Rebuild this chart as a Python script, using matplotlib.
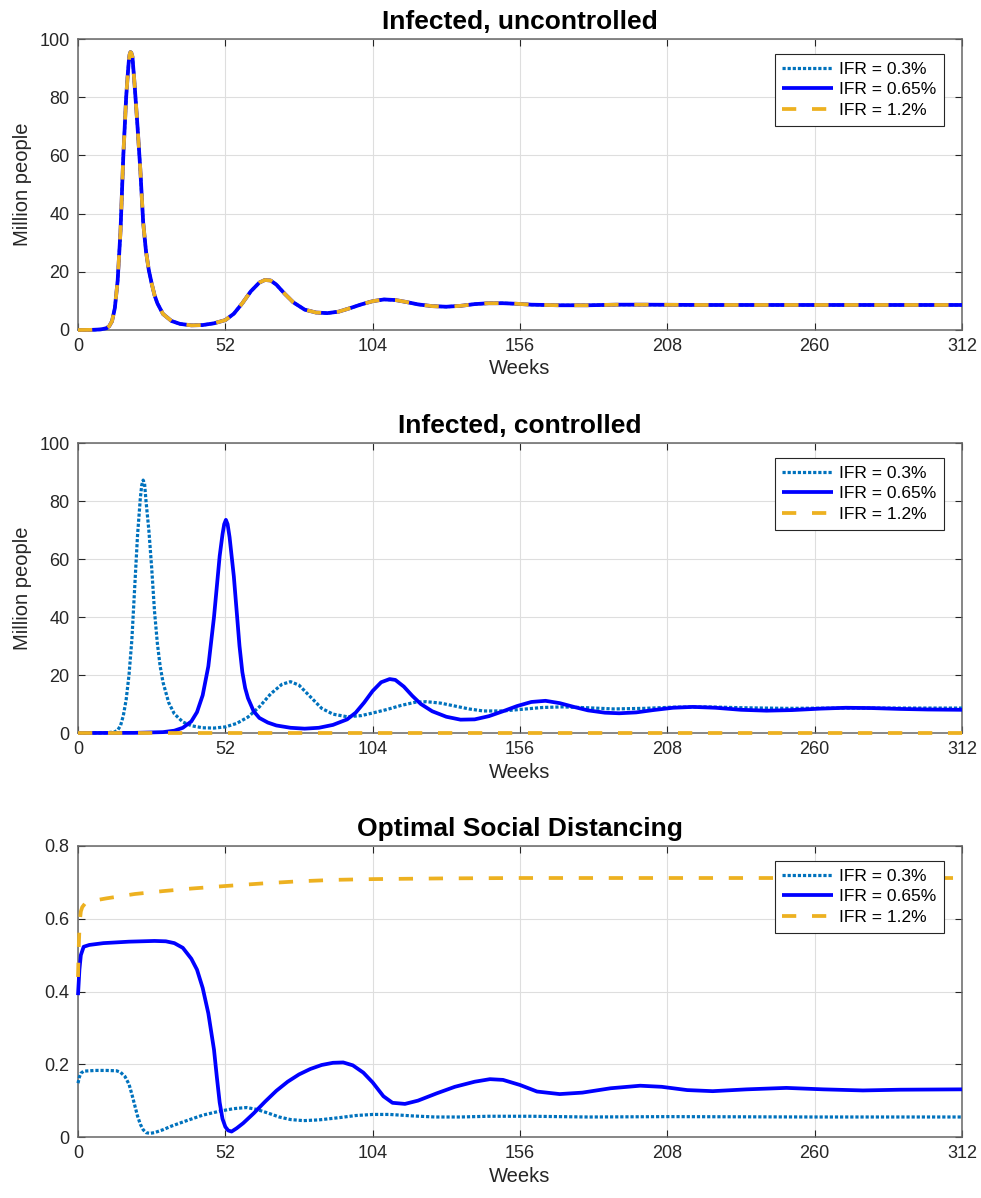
import matplotlib
matplotlib.use("Agg")
import matplotlib.pyplot as plt
import numpy as np

plt.rcParams['font.family'] = ['Liberation Sans', 'DejaVu Sans']

# ---------------- data ----------------
labels = ["IFR = 0.3%", "IFR = 0.65%", "IFR = 1.2%"]
xticks = [0, 52, 104, 156, 208, 260, 312]

# Panel 1: infected, uncontrolled (all three IFR curves coincide)
unc_w = [0, 5, 8, 10, 11, 12, 13, 14, 15, 16, 17, 17.5, 17.9, 18.2, 18.5, 18.8, 19.2, 20, 21, 22, 23, 24, 25, 26, 27, 28,
         30, 33, 36, 40, 44, 48, 52, 55, 58, 61, 64, 66, 68, 70, 73, 76, 80, 84, 88, 92, 96, 100, 104,
         108, 112, 116, 120, 125, 130, 135, 140, 145, 150, 155, 160, 170, 180, 190, 200, 220, 240, 260, 280, 312]
unc_i = [0.0, 0.05, 0.2, 0.6, 1.3, 3.0, 7.5, 17, 34, 60, 80, 87, 92, 94.6, 95.5, 95.3, 94, 84, 70, 55, 37, 27, 20.5, 16, 12, 9.2,
         5.5, 3.1, 2.1, 1.6, 1.7, 2.3, 3.4, 5.6, 9.2, 13.3, 16.3, 17.2, 17.0, 15.6, 12.4, 9.5, 7.0, 6.0, 5.8, 6.3, 7.5, 8.8, 9.9,
         10.5, 10.3, 9.6, 8.8, 8.2, 8.0, 8.3, 8.9, 9.2, 9.2, 9.0, 8.7, 8.5, 8.5, 8.7, 8.7, 8.6, 8.6, 8.6, 8.6, 8.6]

# Panel 2: infected, controlled
c03_w = [0, 10, 13, 14, 15, 16, 17, 18, 19, 20, 21, 22, 22.5, 23, 23.5, 24, 25, 26, 27, 28, 29, 30, 32, 34, 37, 40, 44,
         48, 52, 56, 60, 64, 68, 72, 75, 78, 82, 86, 90, 95, 100, 104, 109, 114, 119, 123, 128, 133, 138, 143,
         150, 157, 164, 171, 180, 189, 200, 210, 222, 235, 250, 270, 290, 312]
c03_i = [0.0, 0.05, 0.4, 1.0, 2.5, 6, 11.5, 20, 32, 50, 68, 81, 85.5, 87.2, 86, 80, 70, 57, 42, 31, 23, 17.5, 10.5, 6.6, 3.8, 2.5, 1.8,
         1.7, 2.1, 3.3, 5.5, 9.0, 13.5, 16.8, 17.7, 16.5, 12.5, 8.5, 6.5, 5.6, 6.0, 6.9, 8.1, 9.5, 10.6, 10.8, 10.3, 9.3, 8.3, 7.6,
         7.6, 8.2, 8.8, 9.0, 8.7, 8.3, 8.5, 8.9, 9.0, 8.7, 8.5, 8.6, 8.6, 8.6]

c065_w = [0, 20, 30, 34, 37, 40, 42, 44, 46, 48, 50, 51, 51.6, 52.2, 52.8, 53.5, 54, 55, 56, 57, 58, 59, 60, 62, 64, 67, 70, 75, 80,
          85, 90, 95, 98, 101, 104, 107, 110, 112, 115, 118, 121, 125, 130, 135, 140, 145, 150, 155, 160, 165,
          170, 175, 180, 186, 191, 197, 203, 210, 217, 225, 234, 243, 252, 262, 271, 280, 290, 300, 312]
c065_i = [0.0, 0.05, 0.3, 0.8, 1.8, 4.0, 7.2, 13, 23, 40, 61, 68.5, 72, 73.5, 72, 67.5, 63, 54, 42, 30, 21, 15.5, 12, 7.5, 5.2, 3.6, 2.6, 1.8, 1.5,
          1.8, 2.8, 4.7, 7.0, 10.5, 14.5, 17.5, 18.6, 18.3, 16.0, 12.8, 10.0, 7.5, 5.6, 4.6, 4.7, 5.8, 7.5, 9.3, 10.7, 11.1,
          10.3, 9.0, 7.8, 7.0, 6.8, 7.1, 7.9, 8.7, 9.0, 8.7, 8.0, 7.7, 7.9, 8.4, 8.7, 8.6, 8.3, 8.1, 8.0]

c12_w = [0, 52, 104, 156, 208, 260, 312]
c12_i = [0.0, 0.0, 0.0, 0.0, 0.0, 0.0, 0.0]

# Panel 3: optimal social distancing
d03_w = [0, 0.5, 1, 2, 6, 10, 13.6, 15, 16.6, 18, 19, 20, 21, 22, 23, 24, 25.4, 27, 30, 33, 38, 44, 50, 55, 59.5,
         63, 67, 71, 75, 79.5, 85, 92, 98, 104, 110, 118, 126, 135, 145, 160, 180, 208, 260, 312]
d03_u = [0.148, 0.165, 0.175, 0.181, 0.183, 0.183, 0.182, 0.178, 0.166, 0.145, 0.118, 0.088, 0.058, 0.035, 0.02, 0.012, 0.01,
         0.012, 0.02, 0.03, 0.044, 0.06, 0.071, 0.078, 0.081, 0.076, 0.066, 0.055, 0.048, 0.045, 0.047, 0.053, 0.059,
         0.062, 0.062, 0.058, 0.055, 0.055, 0.057, 0.057, 0.055, 0.056, 0.055, 0.055]

d065_w = [0, 0.5, 1, 2, 4, 9, 18, 27, 31, 34, 37, 40, 42, 44, 46, 48, 49, 50, 51, 52, 53, 54.2, 56, 58.3, 62, 66, 70,
          74, 78, 82, 86, 90, 93.6, 97, 100.7, 104, 107.8, 111, 115.4, 120, 126.6, 133, 140, 145.4, 150, 156,
          162, 170, 178, 188, 198.4, 206, 215, 224, 236, 250, 263, 277, 290, 312]
d065_u = [0.39, 0.46, 0.50, 0.523, 0.528, 0.533, 0.537, 0.539, 0.538, 0.533, 0.52, 0.49, 0.46, 0.41, 0.34, 0.24, 0.165, 0.095,
          0.05, 0.028, 0.018, 0.015, 0.024, 0.038, 0.065, 0.097, 0.127, 0.152, 0.172, 0.187, 0.198, 0.204, 0.205, 0.197,
          0.177, 0.15, 0.112, 0.094, 0.091, 0.1, 0.12, 0.138, 0.152, 0.159, 0.157, 0.143, 0.125, 0.118, 0.122, 0.134,
          0.141, 0.138, 0.129, 0.126, 0.131, 0.135, 0.131, 0.128, 0.13, 0.131]

d12_w = [0, 0.3, 0.6, 1.0, 1.5, 2.5, 5, 10, 20, 30, 40, 52, 65, 78, 91, 104, 130, 156, 208, 312]
d12_u = [0.44, 0.53, 0.59, 0.62, 0.632, 0.642, 0.649, 0.656, 0.668, 0.676, 0.683, 0.690, 0.697, 0.703, 0.707,
         0.709, 0.711, 0.712, 0.712, 0.712]

# ---------------- style ----------------
C_DOT = '#0072BD'
C_SOL = '#0000FF'
C_DASH = '#EDB120'
STY_DOT = dict(color=C_DOT, lw=2.3, linestyle=(0, (1, 0.6)))
STY_SOL = dict(color=C_SOL, lw=2.7, linestyle='-')
STY_DASH = dict(color=C_DASH, lw=2.7, linestyle=(0, (3.8, 4.2)))

fig = plt.figure(figsize=(9.81, 11.98), dpi=100)
W, H = 981, 1198
def ax_at(left, top, right, bottom):
    return fig.add_axes([left / W, 1 - bottom / H, (right - left) / W, (bottom - top) / H])

axes = [ax_at(78, 39, 962, 330), ax_at(78, 443, 962, 733), ax_at(78, 846, 962, 1137)]

panels = [
    ("Infected, uncontrolled", [(unc_w, unc_i), (unc_w, unc_i), (unc_w, unc_i)], (0, 100), np.arange(0, 101, 20), True),
    ("Infected, controlled", [(c03_w, c03_i), (c065_w, c065_i), (c12_w, c12_i)], (0, 100), np.arange(0, 101, 20), True),
    ("Optimal Social Distancing", [(d03_w, d03_u), (d065_w, d065_u), (d12_w, d12_u)], (0, 0.8), [0, 0.2, 0.4, 0.6, 0.8], False),
]

for ax, (title, series, ylim, yticks, ylab) in zip(axes, panels):
    styles = [STY_DOT, STY_SOL, STY_DASH]
    for (w, v), st, lab in zip(series, styles, labels):
        ax.plot(w, v, label=lab, solid_capstyle='butt', dash_capstyle='butt',
                clip_on=False, zorder=3, **st)
    ax.set_xlim(0, 312)
    ax.set_ylim(*ylim)
    ax.set_xticks(xticks)
    ax.set_yticks(yticks)
    if ylim[1] < 1:
        ax.set_yticklabels(['0', '0.2', '0.4', '0.6', '0.8'])
    ax.grid(True, color='#dedede', lw=0.8)
    ax.set_axisbelow(True)
    for s in ax.spines.values():
        s.set_color('#666666')
        s.set_linewidth(1.1)
        s.set_zorder(2.5)
    ax.tick_params(direction='in', length=5, width=0.8, top=True, right=True,
                   labelsize=13, colors='#262626', pad=6)
    ax.set_xlabel("Weeks", fontsize=14.5, color='#262626', labelpad=3)
    if ylab:
        ax.set_ylabel("Million people", fontsize=14.5, color='#262626', labelpad=5)
    ax.set_title(title, fontsize=19, fontweight='bold', pad=7)
    leg = ax.legend(loc='upper right', bbox_to_anchor=(0.9796, 0.948), borderaxespad=0,
                    fontsize=12.5, handlelength=2.9, handletextpad=0.35, labelspacing=0.3,
                    borderpad=0.45, fancybox=False, framealpha=1, edgecolor='#262626')
    leg.get_frame().set_linewidth(0.8)
    leg.set_zorder(5)

fig.savefig("out.png", dpi=100)
